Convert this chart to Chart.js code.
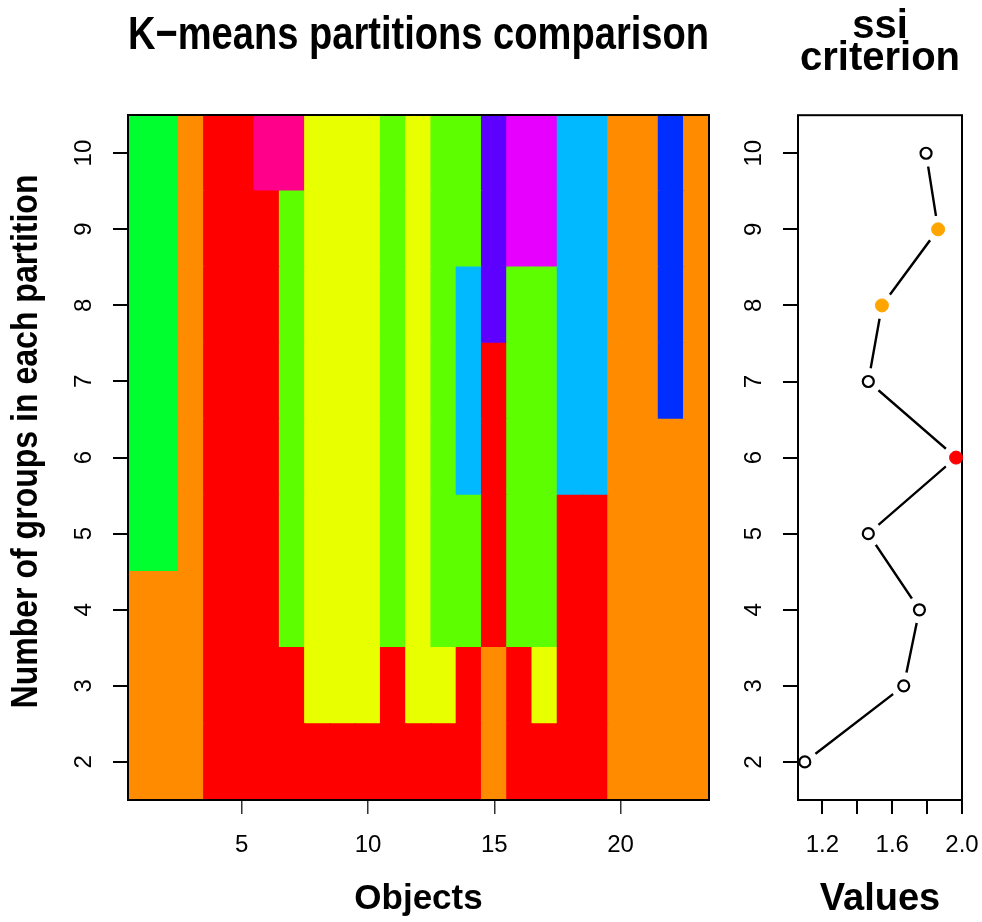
<!DOCTYPE html>
<html>
<head>
<meta charset="utf-8">
<title>K-means partitions comparison</title>
<script src="https://cdn.jsdelivr.net/npm/chart.js@4.4.1/dist/chart.umd.min.js"></script>
<style>
  html, body { margin: 0; padding: 0; background: #fff; }
  #wrap { position: relative; width: 982px; height: 922px; }
  canvas { position: absolute; top: 0; }
  #kmeans { left: 0; }
  #ssi { left: 730px; }
</style>
</head>
<body>
<div id="wrap">
  <canvas id="kmeans" width="730" height="922"></canvas>
  <canvas id="ssi" width="252" height="922"></canvas>
</div>
<script>
// objects and partitions (number of groups)
const objects = [1, 2, 3, 4, 5, 6, 7, 8, 9, 10, 11, 12, 13, 14, 15, 16, 17, 18, 19, 20, 21, 22, 23];
const partitions = [2, 3, 4, 5, 6, 7, 8, 9, 10];

// colour of each group
const palette = ['#FF0000', '#FF8B00', '#E8FF00', '#5DFF00', '#00FF2E', '#00FFA2',
                 '#00B9FF', '#002EFF', '#5D00FF', '#E800FF', '#FF008B'];

// group (palette index) of every object, one row per partition
const groupsK2  = [1,1,1,0,0,0,0,0,0,0,0,0,0,0,1,0,0,0,0,1,1,1,1];
const groupsK3  = [1,1,1,0,0,0,0,2,2,2,0,2,2,0,1,0,2,0,0,1,1,1,1];
const groupsK4  = [1,1,1,0,0,0,3,2,2,2,3,2,3,3,0,3,3,0,0,1,1,1,1];
const groupsK5  = [4,4,1,0,0,0,3,2,2,2,3,2,3,3,0,3,3,0,0,1,1,1,1];
const groupsK6  = [4,4,1,0,0,0,3,2,2,2,3,2,3,6,0,3,3,6,6,1,1,1,1];
const groupsK7  = [4,4,1,0,0,0,3,2,2,2,3,2,3,6,0,3,3,6,6,1,1,7,1];
const groupsK8  = [4,4,1,0,0,0,3,2,2,2,3,2,3,6,8,3,3,6,6,1,1,7,1];
const groupsK9  = [4,4,1,0,0,0,3,2,2,2,3,2,3,3,8,9,9,6,6,1,1,7,1];
const groupsK10 = [4,4,1,0,0,10,10,2,2,2,3,2,3,3,8,9,9,6,6,1,1,7,1];
const groupRows = [groupsK2, groupsK3, groupsK4, groupsK5, groupsK6, groupsK7, groupsK8, groupsK9, groupsK10];

// ssi criterion for k = 2..10
const ssiValues = [1.099, 1.666, 1.756, 1.463, 1.966, 1.463, 1.541, 1.863, 1.794];
const ssiFill = ['#fff', '#fff', '#fff', '#fff', '#FF0000', '#fff', '#FFA500', '#FFA500', '#fff'];

// ticks
const partitionTicks = [2, 3, 4, 5, 6, 7, 8, 9, 10];
const objectTickLabels = [5, 10, 15, 20];
const valueTicks = [1.2, 1.4, 1.6, 1.8, 2.0];
const valueTickLabels = [1.2, 1.6, 2.0];

const NARROW = "'Liberation Sans Narrow', 'Liberation Sans', Arial, sans-serif";
const SANS = "'Liberation Sans', Arial, sans-serif";
Chart.defaults.font.family = SANS;
Chart.defaults.color = '#000';

function framePlugin(hook) {
  const p = { id: 'frame' + hook };
  p[hook] = function(chart) {
    const a = chart.chartArea, ctx = chart.ctx;
    ctx.save();
    ctx.strokeStyle = '#000';
    ctx.lineWidth = 2;
    ctx.strokeRect(a.left, a.top, a.right - a.left, a.bottom - a.top);
    ctx.restore();
  };
  return p;
}

// y axis title of the heat map (drawn a little condensed, like the R device font)
const yLabel = {
  id: 'yLabel',
  afterDraw(chart) {
    const ctx = chart.ctx, a = chart.chartArea;
    ctx.save();
    ctx.translate(27, (a.top + a.bottom) / 2 - 16);
    ctx.rotate(-Math.PI / 2);
    ctx.scale(0.89, 1);
    ctx.font = 'bold 36px ' + NARROW;
    ctx.textAlign = 'center';
    ctx.textBaseline = 'middle';
    ctx.fillStyle = '#000';
    ctx.fillText('Number of groups in each partition', 0, 0);
    ctx.restore();
  }
};

const yScale = function(width) {
  return {
    type: 'linear',
    min: 1.5,
    max: 10.5,
    afterBuildTicks(s) { s.ticks = partitionTicks.map(v => ({ value: v })); },
    afterFit(s) { s.width = width; },
    grid: { drawOnChartArea: false, tickLength: 15, color: '#000', lineWidth: 2 },
    border: { display: false },
    ticks: { minRotation: 90, maxRotation: 90, crossAlign: 'center', padding: 15, autoSkip: false,
             font: { size: 24 }, color: '#000' }
  };
};

// heat map of partitions
new Chart(document.getElementById('kmeans'), {
  type: 'bar',
  data: {
    labels: objects.map(String),
    datasets: groupRows.map((row, r) => ({
      data: objects.map(() => [partitions[r] - 0.5, partitions[r] + 0.5]),
      backgroundColor: row.map(g => palette[g]),
      borderWidth: 0,
      inflateAmount: 0.7,
      grouped: false,
      barPercentage: 1,
      categoryPercentage: 1
    }))
  },
  options: {
    responsive: false,
    animation: false,
    layout: { padding: { left: 0, right: 21, top: 0, bottom: 0 } },
    plugins: {
      legend: { display: false },
      tooltip: { enabled: false },
      title: {
        display: true,
        text: 'K\u2212means partitions comparison',
        fullSize: false,
        color: '#000',
        font: { size: 47, weight: 'bold', family: NARROW, lineHeight: 1.2 },
        padding: { top: 8, bottom: 50.6 }
      }
    },
    scales: {
      x: {
        type: 'category',
        offset: true,
        afterFit(s) { s.height = 122; },
        grid: { offset: false, drawOnChartArea: false, tickLength: 14, color: '#333', lineWidth: 1.5 },
        border: { display: false },
        ticks: {
          autoSkip: false, maxRotation: 0, padding: 17, font: { size: 24 }, color: '#000',
          callback(v, i) {
            const o = objects[i];
            return objectTickLabels.includes(o) ? String(o) : null;
          }
        },
        title: { display: true, text: 'Objects', color: '#000',
                 font: { size: 35, weight: 'bold', family: NARROW, lineHeight: 1.2 },
                 padding: { top: 0, bottom: 2 } }
      },
      y: yScale(128)
    }
  },
  plugins: [framePlugin('afterDatasetsDraw'), yLabel]
});

// ssi criterion panel
const ssiPoints = partitions.map((k, i) => ({ x: ssiValues[i], y: k }));
new Chart(document.getElementById('ssi'), {
  type: 'line',
  data: {
    datasets: [
      {
        data: ssiPoints,
        showLine: false,
        pointRadius: ssiFill.map(c => c === '#fff' ? 5.5 : 6.5),
        pointBackgroundColor: ssiFill,
        pointBorderColor: ssiFill.map(c => c === '#fff' ? '#000' : c),
        pointBorderWidth: ssiFill.map(c => c === '#fff' ? 2.2 : 1),
        clip: false,
        order: 1
      },
      {
        data: ssiPoints,
        showLine: false,
        pointRadius: 13.5,
        pointBackgroundColor: '#fff',
        pointBorderWidth: 0,
        clip: { left: -1.5, top: -1.5, right: -1.5, bottom: -1.5 },
        order: 2
      },
      {
        data: ssiPoints,
        borderColor: '#000',
        borderWidth: 2.4,
        pointRadius: 0,
        tension: 0,
        order: 3
      }
    ]
  },
  options: {
    responsive: false,
    animation: false,
    layout: { padding: { left: 0, right: 20, top: 0, bottom: 0 } },
    plugins: {
      legend: { display: false },
      tooltip: { enabled: false },
      title: {
        display: true,
        text: ['ssi', 'criterion'],
        fullSize: false,
        color: '#000',
        font: { size: 40, weight: 'bold', family: NARROW, lineHeight: 0.8 },
        padding: { top: 11, bottom: 40.2 }
      }
    },
    scales: {
      x: {
        type: 'linear',
        min: 1.06,
        max: 2.0,
        afterBuildTicks(s) { s.ticks = valueTicks.map(v => ({ value: v })); },
        afterFit(s) { s.height = 122; s.paddingLeft = 0; s.paddingRight = 0; },
        grid: { drawOnChartArea: false, tickLength: 14, color: '#000', lineWidth: 2 },
        border: { display: false },
        ticks: {
          autoSkip: false, maxRotation: 0, padding: 17, font: { size: 24 }, color: '#000',
          callback(v) { return valueTickLabels.includes(v) ? v.toFixed(1) : ''; }
        },
        title: { display: true, text: 'Values', color: '#000',
                 font: { size: 38, weight: 'bold', family: NARROW, lineHeight: 1.2 },
                 padding: { top: 0, bottom: 0 } }
      },
      y: yScale(68)
    }
  },
  plugins: [framePlugin('beforeDatasetsDraw')]
});
</script>
</body>
</html>
